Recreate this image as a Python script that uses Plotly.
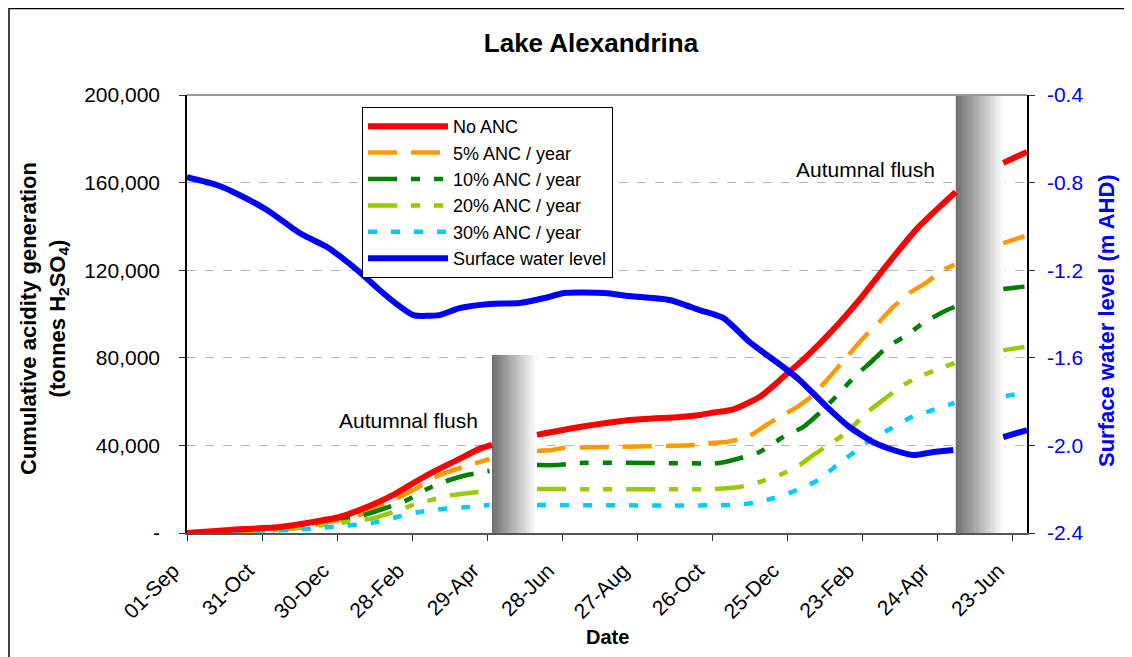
import pandas as pd
import plotly.graph_objects as go

START = "2008-09-01"
FONT = "Arial, 'Liberation Sans', sans-serif"

# ---- data (days since START, values) ----
no_anc_days = [0, 34, 74, 101, 122, 144, 165, 181, 197, 216, 234, 244, None,
               280, 314, 354, 394, 410, 421, 437, 458, 477, 496, 522, 538, 558, 584, 602, 615, None,
               653, 672]
no_anc_vals = [0, 1400, 2700, 5000, 7300, 11900, 17400, 22800, 27900, 33300, 38400, 40200, None,
               44800, 48400, 51600, 53000, 53900, 55000, 56500, 62100, 71200, 80800, 96000, 106500,
               121000, 139000, 148900, 155700, None,
               169000, 174000]

anc5_days = [0, 30, 60, 90, 101, 138, 165, 181, 202, 226, 242, None,
             280, 292, 301, 341, 408, 416, 432, 448, 461, 474, 488, 501, 514, 528, 541, 554, 565,
             578, 592, 605, 614, None,
             653, 670]
anc5_vals = [0, 300, 1000, 2500, 3600, 8200, 15000, 19600, 26500, 31000, 33800, None,
             37500, 37900, 38800, 39300, 40200, 41000, 41600, 43800, 48400, 53000, 57500, 63000,
             71200, 80400, 89000, 96500, 103200, 109600, 114600, 120100, 122400, None,
             132400, 135500]

anc10_days = [0, 75, 109, 136, 154, 176, 192, 210, 224, 242, None,
              280, 296, 314, 368, 426, 440, 458, 477, 493, 506, 522, 533, 549, 560, 576, 589, 608,
              614, None,
              653, 670]
anc10_vals = [0, 2000, 4600, 7300, 10500, 15000, 20100, 24200, 26500, 28300, None,
              31000, 31000, 32000, 32000, 32000, 33800, 37000, 43800, 48400, 54800, 63900, 70800,
              79000, 84900, 90400, 95900, 101800, 103200, None,
              111400, 112500]

anc20_days = [0, 74, 122, 149, 165, 181, 192, 213, 226, 242, None,
              280, 421, 442, 458, 474, 490, 501, 517, 528, 544, 560, 573, 589, 605, 614, None,
              653, 670]
anc20_vals = [0, 1400, 4600, 6800, 9600, 12800, 14600, 17400, 18300, 19200, None,
              20100, 20100, 21000, 23300, 26500, 31000, 35600, 41600, 46100, 55000, 62100, 67600,
              72100, 75800, 77600, None,
              83500, 84900]

anc30_days = [0, 82, 96, 114, 133, 152, 168, 186, 205, 226, 242, None,
              280, 437, 453, 470, 488, 505, 520, 534, 549, 564, 580, 597, 614, None,
              655, 670]
anc30_vals = [0, 1400, 1800, 2700, 3650, 5000, 7300, 9600, 11000, 11900, 12800, None,
              12800, 12800, 13700, 16000, 19600, 24200, 31000, 37000, 43400, 47900, 53000, 56200,
              59400, None,
              62600, 63900]

level_days = [0, 24, 37, 64, 90, 112, 122, 138, 154, 170, 181, 202, 218, 242, 266, 286, 302,
              334, 354, 386, 410, 429, 450, 477, 490, 512, 530, 549, 565, 581, 597, 613, None,
              653, 672]
level_vals = [-0.775, -0.811, -0.843, -0.925, -1.030, -1.094, -1.135, -1.208, -1.290, -1.364,
              -1.405, -1.405, -1.373, -1.354, -1.350, -1.327, -1.304, -1.304, -1.318, -1.336,
              -1.382, -1.418, -1.528, -1.642, -1.701, -1.825, -1.916, -1.985, -2.021, -2.044,
              -2.030, -2.021, None,
              -1.962, -1.930]

# autumnal flush periods (days since START) and height of the shaded band
flush1 = (244, 280, 81300)
flush2 = (615, 654, 200000)

left_ticks = [0, 40000, 80000, 120000, 160000, 200000]
left_ticktext = ["-", "40,000", "80,000", "120,000", "160,000", "200,000"]
right_ticks = [-2.4, -2.0, -1.6, -1.2, -0.8, -0.4]
right_ticktext = ["-2.4", "-2.0", "-1.6", "-1.2", "-0.8", "-0.4"]

X_END_DAY = 672


def to_dates(days):
    s = pd.Timestamp(START)
    return [None if d is None else (s + pd.Timedelta(days=d)).strftime("%Y-%m-%d %H:%M")
            for d in days]


fig = go.Figure()

# gradient bands for the autumnal flush periods
NB = 40
for (d0, d1, top) in (flush1, flush2):
    edges = [d0 + (d1 - d0) * k / NB for k in range(NB + 1)]
    zrow = [k / (NB - 1) for k in range(NB)]
    fig.add_trace(go.Heatmap(x=to_dates(edges), y=[0, top], z=[zrow],
                             colorscale=[[0, "rgb(112,112,112)"], [1, "rgb(255,255,255)"]],
                             zmin=0, zmax=1, showscale=False, hoverinfo="skip",
                             showlegend=False))

DASH_LSS = "29px,14px,9px,14px,9px,14px"
series = [
    ("No ANC", no_anc_days, no_anc_vals, "#FF0000", "solid", 6),
    ("5% ANC / year", anc5_days, anc5_vals, "#FF9900", "29px,14px", 4.5),
    ("10% ANC / year", anc10_days, anc10_vals, "#008000", DASH_LSS, 4.5),
    ("20% ANC / year", anc20_days, anc20_vals, "#99CC00", DASH_LSS, 4.5),
    ("30% ANC / year", anc30_days, anc30_vals, "#00CCFF", "9px,14px", 4.5),
]
order = [1, 2, 3, 4, 0]
for i in order:
    name, d, v, c, dash, w = series[i]
    fig.add_trace(go.Scatter(x=to_dates(d), y=v, name=name, mode="lines",
                             line=dict(color=c, dash=dash, width=w, shape="spline",
                                       smoothing=0.6),
                             legendrank=i + 1, connectgaps=False))

fig.add_trace(go.Scatter(x=to_dates(level_days), y=level_vals, name="Surface water level",
                         mode="lines", line=dict(color="#0000FF", width=6, shape="spline",
                                                 smoothing=0.6),
                         yaxis="y2", legendrank=6, connectgaps=False))

# page has an 8px body margin; figure is sized/placed to compensate
W, H = 1124, 649
L, R, T, B = 179, 105, 87, 124
PW, PH = W - L - R, H - T - B

shapes = [
    dict(type="line", xref="paper", yref="paper", x0=0, x1=1, y0=1, y1=1,
         line=dict(color="#999999", width=2)),
    dict(type="rect", xref="paper", yref="paper", x0=(1 - L) / PW, x1=(W + 20 - L) / PW,
         y0=-(B + 20) / PH, y1=(PH + T - 0.5) / PH,
         line=dict(color="black", width=1.5), fillcolor="rgba(0,0,0,0)"),
]

x_range = to_dates([0, X_END_DAY])


def px_x(page_x):
    return (page_x - 8 - L) / PW


def px_y(page_y):
    return (H - B - (page_y - 8)) / PH


fig.update_layout(
    width=W, height=H,
    margin=dict(l=L, r=R, t=T, b=B, autoexpand=False),
    paper_bgcolor="white", plot_bgcolor="white",
    font=dict(family=FONT, size=21, color="black"),
    title=dict(text="<b>Lake Alexandrina</b>", x=(591 - 8) / W, xanchor="center",
               y=1 - (43 - 8) / H, yanchor="middle", font=dict(size=26, family=FONT)),
    xaxis=dict(type="date", range=x_range, tick0=START, dtick=60 * 86400000,
               tickformat="%d-%b", tickangle=-45, ticks="outside", ticklen=6,
               tickcolor="#333", showline=True, linecolor="#555", linewidth=2,
               showgrid=False, zeroline=False, automargin=False,
               ticklabelstandoff=9, ticklabelshift=-14,
               tickfont=dict(size=21)),
    yaxis=dict(range=[0, 200000], tickvals=left_ticks, ticktext=left_ticktext,
               ticks="outside", ticklen=6, tickcolor="#333", showline=True, linecolor="black",
               linewidth=1.5, showgrid=True, gridcolor="#b4b4b4", griddash="dash", gridwidth=1,
               zeroline=False, automargin=False, ticklabelstandoff=15,
               tickfont=dict(size=21)),
    yaxis2=dict(range=[-2.4, -0.4], tickvals=right_ticks, ticktext=right_ticktext,
                overlaying="y", side="right", ticks="outside", ticklen=6, tickcolor="#333",
                showline=True, linecolor="black", linewidth=1.5, showgrid=False,
                zeroline=False, automargin=False, tickfont=dict(size=21, color="#0000FF"),
                ticklabelstandoff=8),
    legend=dict(x=px_x(362), y=px_y(107), xanchor="left", yanchor="top",
                bgcolor="white", bordercolor="black", borderwidth=1,
                font=dict(size=18, family=FONT), itemwidth=80, tracegroupgap=0,
                traceorder="normal"),
    shapes=shapes,
    annotations=[
        dict(text="<b>Cumulative acidity generation<br>(tonnes H<sub>2</sub>SO<sub>4</sub>)</b>",
             xref="paper", yref="paper", x=px_x(44), y=px_y(319),
             textangle=-90, showarrow=False, xanchor="center", yanchor="middle",
             font=dict(size=22, family=FONT)),
        dict(text="<b>Surface water level (m AHD)</b>", xref="paper", yref="paper",
             x=px_x(1106), y=px_y(321), textangle=-90, showarrow=False,
             xanchor="center", yanchor="middle", font=dict(size=22, color="#0000FF", family=FONT)),
        dict(text="<b>Date</b>", xref="paper", yref="paper", x=0.5, y=px_y(637),
             showarrow=False, xanchor="center", yanchor="middle", font=dict(size=20, family=FONT)),
        dict(text="Autumnal flush", xref="x", yref="y", x=to_dates([177])[0], y=51600,
             showarrow=False, xanchor="center", yanchor="middle", font=dict(size=21, family=FONT)),
        dict(text="Autumnal flush", xref="x", yref="y", x=to_dates([543])[0], y=166200,
             showarrow=False, xanchor="center", yanchor="middle", font=dict(size=21, family=FONT)),
    ],
    showlegend=True,
)

fig.write_html("out.html")
